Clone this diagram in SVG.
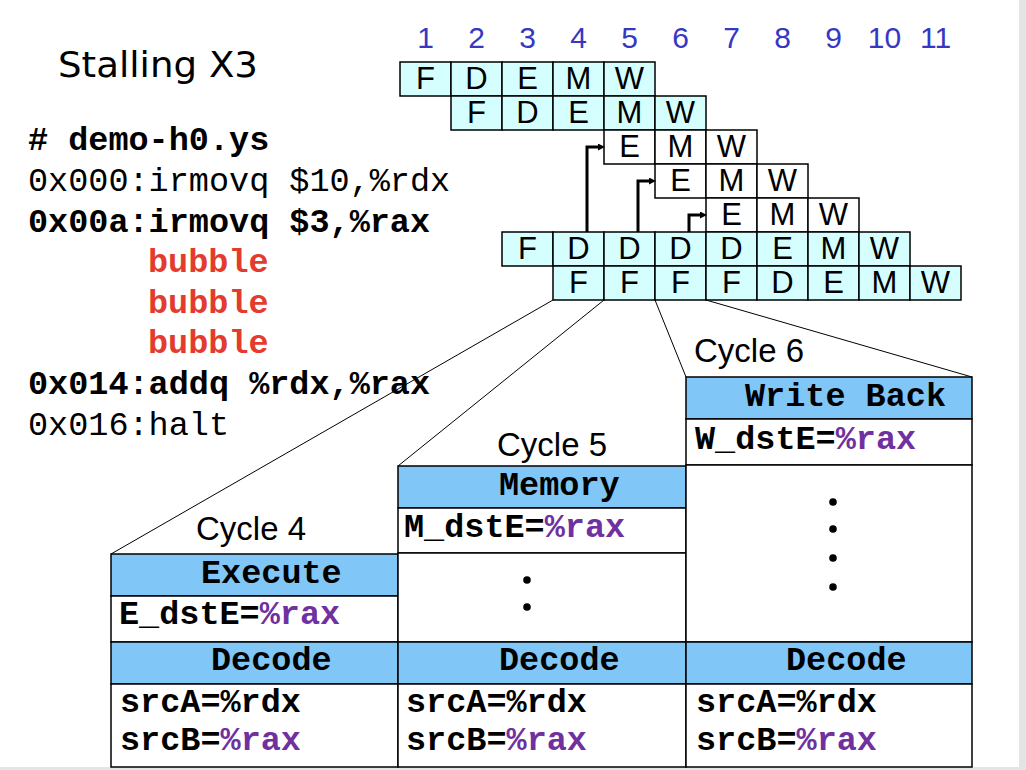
<svg xmlns="http://www.w3.org/2000/svg" width="1026" height="770" viewBox="0 0 1026 770">
<style>
.c{fill:#d5ffff;stroke:#000;stroke-width:1.5}
.w{fill:#fff;stroke:#000;stroke-width:1.5}
.h{fill:#80c6f7;stroke:#000;stroke-width:1.5}
.b{fill:#fff;stroke:#000;stroke-width:1.5}
.p{font-family:"Liberation Sans",Arial,sans-serif;font-size:31px;fill:#000;text-anchor:middle}
.n{font-family:"Liberation Sans",Arial,sans-serif;font-size:30px;fill:#3737c3;text-anchor:middle}
.cy{font-family:"Liberation Sans",Arial,sans-serif;font-size:33px;fill:#000}
.m{font-family:"Liberation Mono","Courier New",monospace;font-size:33.5px;fill:#000}
.mb{font-family:"Liberation Mono","Courier New",monospace;font-size:33.5px;font-weight:bold;fill:#000}
.red{fill:#e33b2e}
.pu{fill:#7030a0}
.ln{fill:none;stroke:#000;stroke-width:1}
.fw{fill:none;stroke:#000;stroke-width:3;marker-end:url(#ah)}
</style>
<defs>
<marker id="ah" viewBox="0 0 7 7" markerWidth="7" markerHeight="7" refX="0" refY="3.5" orient="auto" markerUnits="userSpaceOnUse">
<path d="M0,0 L7,3.5 L0,7 z" fill="#000"/>
</marker>
</defs>
<rect x="0" y="0" width="1026" height="770" fill="#e4e4e4"/>
<rect x="0" y="0" width="1019" height="767" fill="#fff"/>

<g id="title">
<text x="58" y="77" font-family="'Comic Sans MS','DejaVu Sans',sans-serif" font-size="36" textLength="200" lengthAdjust="spacingAndGlyphs">Stalling X3</text>
</g>

<g id="cycle-numbers">
<text class="n" x="425.5" y="48">1</text>
<text class="n" x="476.5" y="48">2</text>
<text class="n" x="527.5" y="48">3</text>
<text class="n" x="578.5" y="48">4</text>
<text class="n" x="629.5" y="48">5</text>
<text class="n" x="680.5" y="48">6</text>
<text class="n" x="731.5" y="48">7</text>
<text class="n" x="782.5" y="48">8</text>
<text class="n" x="833.5" y="48">9</text>
<text class="n" x="884.5" y="48">10</text>
<text class="n" x="935.5" y="48">11</text>
</g>

<g id="code">
<text class="mb" x="28" y="150"># demo-h0.ys</text>
<text class="m" x="28" y="191">0x000:irmovq $10,%rdx</text>
<text class="mb" x="28" y="232">0x00a:irmovq $3,%rax</text>
<text class="mb red" x="148" y="272">bubble</text>
<text class="mb red" x="148" y="313">bubble</text>
<text class="mb red" x="148" y="353">bubble</text>
<text class="mb" x="28" y="394">0x014:addq %rdx,%rax</text>
<text class="m" x="28" y="435">0x016:halt</text>
</g>

<g id="row1">
<rect class="c" x="400" y="62" width="51" height="34"/><rect class="c" x="451" y="62" width="51" height="34"/><rect class="c" x="502" y="62" width="51" height="34"/><rect class="c" x="553" y="62" width="51" height="34"/><rect class="c" x="604" y="62" width="51" height="34"/>
<text class="p" x="425.5" y="89">F</text><text class="p" x="476.5" y="89">D</text><text class="p" x="527.5" y="89">E</text><text class="p" x="578.5" y="89">M</text><text class="p" x="629.5" y="89">W</text>
</g>
<g id="row2">
<rect class="c" x="451" y="96" width="51" height="34"/><rect class="c" x="502" y="96" width="51" height="34"/><rect class="c" x="553" y="96" width="51" height="34"/><rect class="c" x="604" y="96" width="51" height="34"/><rect class="c" x="655" y="96" width="51" height="34"/>
<text class="p" x="476.5" y="123">F</text><text class="p" x="527.5" y="123">D</text><text class="p" x="578.5" y="123">E</text><text class="p" x="629.5" y="123">M</text><text class="p" x="680.5" y="123">W</text>
</g>
<g id="row3">
<rect class="w" x="604" y="130" width="51" height="34"/><rect class="w" x="655" y="130" width="51" height="34"/><rect class="w" x="706" y="130" width="51" height="34"/>
<text class="p" x="629.5" y="157">E</text><text class="p" x="680.5" y="157">M</text><text class="p" x="731.5" y="157">W</text>
</g>
<g id="row4">
<rect class="w" x="655" y="164" width="51" height="34"/><rect class="w" x="706" y="164" width="51" height="34"/><rect class="w" x="757" y="164" width="51" height="34"/>
<text class="p" x="680.5" y="191">E</text><text class="p" x="731.5" y="191">M</text><text class="p" x="782.5" y="191">W</text>
</g>
<g id="row5">
<rect class="w" x="706" y="198" width="51" height="34"/><rect class="w" x="757" y="198" width="51" height="34"/><rect class="w" x="808" y="198" width="51" height="34"/>
<text class="p" x="731.5" y="225">E</text><text class="p" x="782.5" y="225">M</text><text class="p" x="833.5" y="225">W</text>
</g>
<g id="row6">
<rect class="c" x="502" y="232" width="51" height="34"/><rect class="c" x="553" y="232" width="51" height="34"/><rect class="c" x="604" y="232" width="51" height="34"/><rect class="c" x="655" y="232" width="51" height="34"/><rect class="c" x="706" y="232" width="51" height="34"/><rect class="c" x="757" y="232" width="51" height="34"/><rect class="c" x="808" y="232" width="51" height="34"/><rect class="c" x="859" y="232" width="51" height="34"/>
<text class="p" x="527.5" y="259">F</text><text class="p" x="578.5" y="259">D</text><text class="p" x="629.5" y="259">D</text><text class="p" x="680.5" y="259">D</text><text class="p" x="731.5" y="259">D</text><text class="p" x="782.5" y="259">E</text><text class="p" x="833.5" y="259">M</text><text class="p" x="884.5" y="259">W</text>
</g>
<g id="row7">
<rect class="c" x="553" y="266" width="51" height="34"/><rect class="c" x="604" y="266" width="51" height="34"/><rect class="c" x="655" y="266" width="51" height="34"/><rect class="c" x="706" y="266" width="51" height="34"/><rect class="c" x="757" y="266" width="51" height="34"/><rect class="c" x="808" y="266" width="51" height="34"/><rect class="c" x="859" y="266" width="51" height="34"/><rect class="c" x="910" y="266" width="51" height="34"/>
<text class="p" x="578.5" y="293">F</text><text class="p" x="629.5" y="293">F</text><text class="p" x="680.5" y="293">F</text><text class="p" x="731.5" y="293">F</text><text class="p" x="782.5" y="293">D</text><text class="p" x="833.5" y="293">E</text><text class="p" x="884.5" y="293">M</text><text class="p" x="935.5" y="293">W</text>
</g>

<g id="connectors">
<path class="fw" d="M587,232 V147 H598"/>
<path class="fw" d="M638,232 V181 H649"/>
<path class="fw" d="M689,232 V215 H700"/>
<path class="ln" d="M553,300 L111,554"/>
<path class="ln" d="M604,300 L398,466"/>
<path class="ln" d="M655,300 L686,377"/>
<path class="ln" d="M706,300 L972,377"/>
</g>

<g id="cycle4">
<text class="cy" x="196" y="540">Cycle 4</text>
<rect class="h" x="111" y="554" width="287" height="42"/>
<rect class="b" x="111" y="596" width="287" height="46"/>
<rect class="h" x="111" y="642" width="287" height="42"/>
<rect class="b" x="111" y="684" width="287" height="83"/>
<text class="mb" x="201" y="583">Execute</text>
<text class="mb" x="119" y="624">E_dstE=<tspan class="pu">%rax</tspan></text>
<text class="mb" x="211" y="670">Decode</text>
<text class="mb" x="120" y="712">srcA=%rdx</text>
<text class="mb" x="120" y="750">srcB=<tspan class="pu">%rax</tspan></text>
</g>

<g id="cycle5">
<text class="cy" x="497" y="456">Cycle 5</text>
<rect class="h" x="398" y="466" width="288" height="42"/>
<rect class="b" x="398" y="508" width="288" height="45"/>
<rect class="b" x="398" y="553" width="288" height="89"/>
<rect class="h" x="398" y="642" width="288" height="42"/>
<rect class="b" x="398" y="684" width="288" height="83"/>
<text class="mb" x="499" y="495">Memory</text>
<text class="mb" x="404" y="537">M_dstE=<tspan class="pu">%rax</tspan></text>
<circle cx="527" cy="580" r="3.8"/>
<circle cx="527" cy="607" r="3.8"/>
<text class="mb" x="499" y="670">Decode</text>
<text class="mb" x="406" y="712">srcA=%rdx</text>
<text class="mb" x="406" y="750">srcB=<tspan class="pu">%rax</tspan></text>
</g>

<g id="cycle6">
<text class="cy" x="694" y="362">Cycle 6</text>
<rect class="h" x="686" y="377" width="286" height="42"/>
<rect class="b" x="686" y="419" width="286" height="46"/>
<rect class="b" x="686" y="465" width="286" height="177"/>
<rect class="h" x="686" y="642" width="286" height="42"/>
<rect class="b" x="686" y="684" width="286" height="83"/>
<text class="mb" x="745" y="406">Write Back</text>
<text class="mb" x="695" y="449">W_dstE=<tspan class="pu">%rax</tspan></text>
<circle cx="833" cy="502" r="3.8"/>
<circle cx="833" cy="529" r="3.8"/>
<circle cx="833" cy="558" r="3.8"/>
<circle cx="833" cy="587" r="3.8"/>
<text class="mb" x="786" y="670">Decode</text>
<text class="mb" x="696" y="712">srcA=%rdx</text>
<text class="mb" x="696" y="750">srcB=<tspan class="pu">%rax</tspan></text>
</g>
</svg>
